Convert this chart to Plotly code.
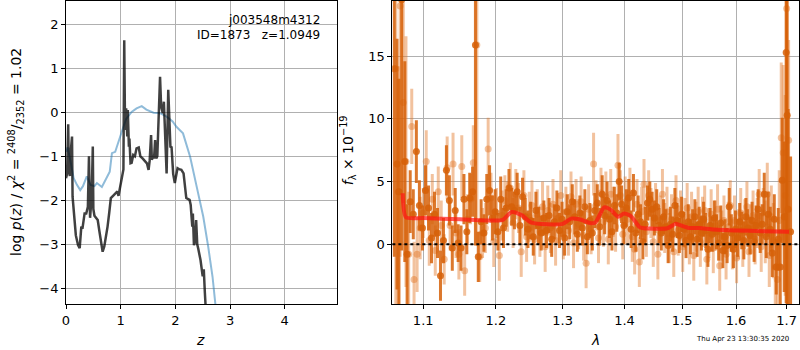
import plotly.graph_objects as go
import numpy as np

# ---------------- Left panel: log p(z) ----------------
z_pz = [0.00, 0.02, 0.03, 0.04, 0.05, 0.07, 0.09, 0.11, 0.12, 0.15, 0.18, 0.22, 0.25, 0.28, 0.30,
        0.34, 0.37, 0.40, 0.42, 0.44, 0.47, 0.49, 0.50, 0.52, 0.55, 0.58, 0.61, 0.65, 0.67, 0.70,
        0.73, 0.76, 0.79, 0.82, 0.86, 0.90, 0.94, 0.96, 0.99, 1.02, 1.05, 1.065, 1.08, 1.10, 1.12,
        1.13, 1.15, 1.16, 1.18, 1.20, 1.23, 1.26, 1.29, 1.33, 1.36, 1.40, 1.44, 1.48, 1.51, 1.53,
        1.556, 1.57, 1.59, 1.61, 1.63, 1.65, 1.67, 1.695, 1.72, 1.74, 1.77, 1.79, 1.81, 1.82, 1.84,
        1.87, 1.89, 1.91, 1.93, 1.96, 1.99, 2.02, 2.04, 2.08, 2.11, 2.15, 2.17, 2.20, 2.26, 2.28,
        2.31, 2.32, 2.34, 2.36, 2.38, 2.40, 2.42, 2.46, 2.50, 2.52, 2.54, 2.56, 2.58]
logpz = [-1.50, -1.40, -0.80, -0.27, -1.20, -1.45, -0.85, -0.55, -1.92, -2.45, -2.80, -3.02, -3.09, -2.60, -2.65,
         -2.30, -2.30, -2.15, -1.00, -2.40, -1.90, -0.78, -2.20, -2.35, -2.40, -2.45, -2.70, -3.00, -3.17, -3.05,
         -2.85, -2.60, -2.29, -1.95, -1.90, -1.84, -1.80, -1.90, -1.69, -1.55, -1.30, 1.64, -0.40, 0.09, -0.55,
         0.05, -0.78, -0.60, -1.16, -1.15, -0.97, -1.00, -0.82, -0.80, -1.00, -1.05, -1.10, -1.16, -1.31, -1.10,
         -0.52, -1.08, -1.00, -1.05, -0.63, -1.05, -1.00, 0.05, 0.81, 0.13, -0.02, 0.24, -0.30, -0.55, -1.39,
         0.51, -0.20, -0.80, -0.78, -1.40, -1.61, -1.35, -1.27, -1.30, -1.31, -1.39, -1.61, -1.95, -1.99, -2.10,
         -2.60, -2.30, -3.02, -2.95, -2.45, -3.00, -3.11, -3.36, -3.73, -3.57, -4.11, -4.40, -5.00]

z_prior = [0.00, 0.03, 0.08, 0.14, 0.20, 0.26, 0.31, 0.38, 0.45, 0.52, 0.565, 0.61, 0.656, 0.71, 0.76,
           0.80, 0.84, 0.90, 0.96, 1.00, 1.05, 1.10, 1.20, 1.29, 1.385, 1.47, 1.60, 1.72, 1.84, 1.95,
           2.02, 2.14, 2.27, 2.39, 2.51, 2.60, 2.68, 2.73, 2.78]
logprior = [-0.90, -0.80, -1.10, -1.50, -1.65, -1.77, -1.68, -1.46, -1.65, -1.68, -1.61, -1.65, -1.70, -1.57, -1.45,
            -1.35, -0.93, -0.90, -0.67, -0.50, -0.33, -0.15, 0.01, 0.09, 0.14, 0.06, -0.01, -0.02, -0.10, -0.21,
            -0.33, -0.48, -1.01, -1.69, -2.37, -3.05, -3.74, -4.34, -5.00]

z_ticks = [0, 1, 2, 3, 4]
pz_ticks = [-4, -3, -2, -1, 0, 1, 2]

# ---------------- Right panel: spectrum ----------------
wave_a = [1.0625, 1.0660, 1.0685, 1.0720, 1.0760, 1.0790, 1.0830, 1.0870, 1.0910, 1.0950, 1.0990, 1.1030,
          1.1070, 1.1110, 1.1150, 1.1190, 1.1230, 1.1270, 1.1310, 1.1350, 1.1390, 1.1430, 1.1470, 1.1510,
          1.1550, 1.1590, 1.1630, 1.1670, 1.1710, 1.1750, 1.1790, 1.1830, 1.1870, 1.1910, 1.1950, 1.1990,
          1.2030, 1.2070, 1.2110, 1.2150, 1.2190, 1.2230, 1.2270, 1.2310, 1.2350, 1.2390, 1.2430, 1.2470,
          1.2510, 1.2550, 1.2590, 1.2630, 1.2670, 1.2710, 1.2750, 1.2790, 1.2830, 1.2870, 1.2910, 1.2950,
          1.2990, 1.3030, 1.3070, 1.3110, 1.3150, 1.3190, 1.3230, 1.3270, 1.3310, 1.3350, 1.3390, 1.3430,
          1.3470, 1.3510, 1.3550, 1.3590, 1.3630, 1.3670, 1.3710, 1.3750, 1.3790, 1.3830, 1.3870, 1.3910,
          1.3950, 1.3990, 1.4030, 1.4070, 1.4110, 1.4150, 1.4190, 1.4230, 1.4270, 1.4310, 1.4350, 1.4390,
          1.4430, 1.4470, 1.4510, 1.4550, 1.4590, 1.4630, 1.4670, 1.4710, 1.4750, 1.4790, 1.4830, 1.4870,
          1.4910, 1.4950, 1.4990, 1.5030, 1.5070, 1.5110, 1.5150, 1.5190, 1.5230, 1.5270, 1.5310, 1.5350,
          1.5390, 1.5430, 1.5470, 1.5510, 1.5550, 1.5590, 1.5630, 1.5670, 1.5710, 1.5750, 1.5790, 1.5830,
          1.5870, 1.5910, 1.5950, 1.5990, 1.6030, 1.6070, 1.6110, 1.6150, 1.6190, 1.6230, 1.6270, 1.6310,
          1.6350, 1.6390, 1.6430, 1.6470, 1.6510, 1.6550, 1.6590, 1.6630, 1.6670, 1.6710, 1.6750, 1.6790,
          1.6830, 1.6870, 1.6910, 1.6950, 1.6990, 1.7010, 1.7030, 1.7080]
flux_a = [14.0, 6.4, 4.2, 19.5, 6.6, -0.8, 3.4, 2.4, 7.4, 3.1, 1.3, 4.3,
          2.9, 0.5, 2.4, 0.9, -2.5, 0.3, 5.9, 3.5, -0.3, 2.7, 0.1, -0.3,
          3.6, 1.0, 3.7, 4.2, 15.9, -1.0, 1.8, 0.9, 3.6, 4.3, 2.1, 2.6,
          1.0, 3.6, 1.3, 2.9, 4.5, 3.0, 2.7, 4.2, 1.5, 3.8, 2.2, 1.2,
          1.9, 0.6, 2.7, 1.5, 0.9, 2.1, 1.1, 2.3, 0.4, 1.8, 2.9, 1.1,
          2.0, 0.5, 2.6, 1.8, 3.4, 2.2, 0.8, 2.5, 1.3, 3.0, 0.6, 1.9,
          0.9, 2.7, 3.3, 1.4, 4.0, 2.3, 3.5, 2.0, 1.0, 3.1, 2.5, 5.0,
          3.2, 1.5, 2.9, 3.7, 1.2, 4.1, 0.9, 2.4, 1.8, 0.2, 1.6, 3.3,
          3.6, 2.8, 2.1, 3.0, 1.5, 0.9, 2.2, 1.4, -0.1, 1.6, 0.8, 3.1,
          1.9, 0.7, 2.4, 1.2, 0.3, 1.8, 0.6, 1.4, 2.2, 0.4, 1.6, 0.9,
          2.0, 1.1, -0.4, 1.5, 0.8, 2.1, 1.0, 0.1, 1.7, -0.5, 0.6, -0.1,
          3.0, 0.9, -0.4, 1.2, 0.5, 1.8, 1.1, 0.3, 2.2, 1.3, 0.7, 1.9,
          0.2, 1.5, 2.8, 0.9, 1.6, 4.0, 0.6, 2.4, 1.2, -0.7, 2.0, -1.8,
          0.4, -1.8, 5.1, 2.2, 15.3, 10.3, 2.8, 1.0]
err_a = [15, 10, 9, 20, 8, 4, 2.5, 2, 2.5, 2, 1.8, 2,
         1.8, 2, 1.8, 2, 2, 1.8, 2, 2, 1.8, 1.8, 1.5, 1.8,
         2, 1.8, 2, 2, 16, 2, 1.8, 1.5, 2, 2, 1.8, 1.8,
         1.5, 1.8, 1.6, 1.5, 1.5, 1.5, 1.5, 1.5, 1.5, 1.5, 1.5, 1.5,
         1.5, 1.5, 1.5, 1.5, 1.4, 1.4, 1.4, 1.4, 1.4, 1.4, 1.4, 1.4,
         1.4, 1.4, 1.4, 1.4, 1.4, 1.4, 1.4, 1.4, 1.4, 1.4, 1.4, 1.4,
         1.4, 1.4, 1.5, 1.5, 1.5, 1.5, 1.5, 1.5, 1.5, 1.5, 1.5, 1.5,
         1.5, 1.5, 1.5, 1.5, 1.5, 1.5, 1.5, 1.5, 1.4, 1.4, 1.4, 1.4,
         1.4, 1.4, 1.4, 1.4, 1.4, 1.4, 1.4, 1.4, 1.4, 1.4, 1.4, 1.4,
         1.4, 1.4, 1.4, 1.4, 1.4, 1.4, 1.4, 1.4, 1.4, 1.4, 1.4, 1.4,
         1.4, 1.4, 1.4, 1.4, 1.4, 1.4, 1.4, 1.4, 1.4, 1.4, 1.4, 1.4,
         1.5, 1.5, 1.5, 1.5, 1.5, 1.5, 1.5, 1.5, 1.5, 1.5, 1.5, 1.5,
         1.6, 1.6, 1.6, 1.6, 1.6, 1.7, 1.7, 1.8, 1.8, 1.9, 2, 2.2,
         2.5, 3, 5, 6, 20, 20, 8, 6]

wave_b = [1.0645, 1.0675, 1.0700, 1.0740, 1.0775, 1.0810, 1.0850, 1.0880, 1.0920, 1.0960, 1.1000, 1.1040,
          1.1080, 1.1120, 1.1160, 1.1200, 1.1240, 1.1280, 1.1320, 1.1360, 1.1400, 1.1440, 1.1480, 1.1520,
          1.1560, 1.1600, 1.1640, 1.1680, 1.1730, 1.1770, 1.1810, 1.1850, 1.1890, 1.1930, 1.1970, 1.2010,
          1.2050, 1.2090, 1.2130, 1.2170, 1.2210, 1.2250, 1.2290, 1.2330, 1.2370, 1.2410, 1.2450, 1.2490,
          1.2530, 1.2570, 1.2610, 1.2650, 1.2690, 1.2730, 1.2770, 1.2810, 1.2850, 1.2890, 1.2930, 1.2970,
          1.3010, 1.3050, 1.3090, 1.3130, 1.3170, 1.3210, 1.3250, 1.3290, 1.3330, 1.3370, 1.3410, 1.3450,
          1.3490, 1.3530, 1.3570, 1.3610, 1.3650, 1.3690, 1.3730, 1.3770, 1.3810, 1.3850, 1.3890, 1.3930,
          1.3970, 1.4010, 1.4050, 1.4090, 1.4130, 1.4170, 1.4210, 1.4250, 1.4290, 1.4330, 1.4370, 1.4410,
          1.4450, 1.4490, 1.4530, 1.4570, 1.4610, 1.4650, 1.4690, 1.4730, 1.4770, 1.4810, 1.4850, 1.4890,
          1.4930, 1.4970, 1.5010, 1.5050, 1.5090, 1.5130, 1.5170, 1.5210, 1.5250, 1.5290, 1.5330, 1.5370,
          1.5410, 1.5450, 1.5490, 1.5530, 1.5570, 1.5610, 1.5650, 1.5690, 1.5730, 1.5770, 1.5810, 1.5850,
          1.5890, 1.5930, 1.5970, 1.6010, 1.6050, 1.6090, 1.6130, 1.6170, 1.6210, 1.6250, 1.6290, 1.6330,
          1.6370, 1.6410, 1.6450, 1.6490, 1.6530, 1.6570, 1.6610, 1.6650, 1.6690, 1.6730, 1.6770, 1.6810,
          1.6850, 1.6890, 1.6930, 1.6970, 1.7000, 1.7040]
flux_b = [14.0, 4.2, 19.0, 11.3, 6.6, -0.8, 9.4, -2.8, -0.8, 1.3, 2.5, 6.6,
          0.3, 3.6, -0.5, 4.2, 1.5, -1.2, 6.1, 1.5, 6.4, 0.9, -0.8, 6.2,
          -2.1, 2.0, 3.6, 6.5, 15.9, -1.0, 0.9, 1.3, 7.6, 3.7, 0.2, 2.5,
          -0.9, 2.3, 3.5, 3.0, 4.5, 1.7, 4.0, 2.9, -0.6, 3.9, 0.6, 2.2,
          3.1, 0.4, 2.4, 1.0, 3.0, -0.2, 2.7, 1.3, 3.2, 0.3, 2.1, 3.9,
          0.8, 2.6, 1.1, 3.8, 0.1, 3.2, 1.6, 3.4, 0.7, -1.5, 2.8, 1.2,
          6.4, 3.1, 0.5, 4.1, 1.8, 3.8, 0.4, 4.0, 2.6, 1.4, 6.3, 3.9,
          0.8, 3.4, 2.0, 4.1, 0.6, -0.4, 3.2, -1.4, 2.6, 4.8, 1.0, 3.9,
          2.5, 0.2, 2.9, -0.8, 1.9, 4.0, 1.3, 2.6, 0.5, 2.0, -0.6, 3.5,
          1.1, 2.3, -0.2, 1.7, 2.9, 0.4, 2.2, -0.9, 1.4, 2.6, 0.2, 1.8,
          2.7, -1.2, 0.9, 2.4, -0.3, 1.5, 2.8, -1.7, 0.7, 1.9, -0.8, 1.4,
          3.1, 0.0, 1.9, -1.1, 0.8, 2.5, 0.2, 1.6, 3.0, -0.6, 1.2, 2.3,
          0.4, 1.7, 4.0, -0.2, 2.5, 1.0, 4.0, -0.9, 2.2, 0.3, -1.8, -2.8,
          1.9, 8.5, 7.3, 3.9, 18.8, 8.3]
err_b = [20, 10, 20, 8, 10, 5, 3, 3, 3, 2.5, 2, 2.5,
         2, 2, 2, 2, 2, 2, 2.5, 2, 2.5, 2, 2, 2.5,
         2, 2, 2, 3, 16, 2, 2, 2, 2.5, 2, 2, 2,
         2, 2, 2, 2, 2, 2, 2, 2, 2, 2, 2, 2,
         2, 2, 2, 2, 2, 2, 2, 2, 2, 2, 2, 2,
         2, 2, 2, 2, 2, 2, 2, 2, 2, 2, 2, 2,
         2.5, 2, 2, 2, 2, 2, 2, 2, 2, 2, 2.5, 2,
         2, 2, 2, 2, 2, 2, 2, 2, 2, 2, 2, 2,
         2, 2, 2, 2, 2, 2, 2, 2, 2, 2, 2, 2,
         2, 2, 2, 2, 2, 2, 2, 2, 2, 2, 2, 2,
         2, 2, 2, 2, 2, 2, 2, 2, 2, 2, 2, 2,
         2, 2, 2, 2, 2, 2, 2, 2, 2, 2, 2, 2,
         2, 2, 2, 2, 2, 2.5, 2.5, 2.5, 2.5, 3, 3, 3,
         4, 6, 7, 8, 20, 8]

wave_model = [1.0733, 1.0775, 1.10, 1.15, 1.20, 1.21, 1.2229, 1.2375, 1.2523, 1.30, 1.3132, 1.3263,
              1.3448, 1.3520, 1.3663, 1.3773, 1.3893, 1.3993, 1.4106, 1.4247, 1.4300, 1.4737, 1.4884,
              1.4950, 1.5124, 1.5300, 1.5578, 1.6000, 1.6533, 1.7050]
flux_model = [4.07, 2.15, 2.10, 2.00, 1.90, 1.95, 2.58, 2.33, 1.73, 1.63, 2.05, 2.00,
              1.68, 1.75, 2.95, 2.75, 2.20, 2.45, 2.25, 1.40, 1.30, 1.28, 1.64,
              1.55, 1.30, 1.30, 1.18, 1.10, 1.05, 1.00]

wave_ticks = [1.1, 1.2, 1.3, 1.4, 1.5, 1.6, 1.7]
flux_ticks = [0, 5, 10, 15]

FONT = "DejaVu Sans"
dark = "rgba(214,96,8,0.85)"
light = "rgba(226,120,40,0.45)"

fig = go.Figure()

fig.add_trace(go.Scatter(x=z_prior, y=logprior, mode="lines",
                         line=dict(color="rgba(31,119,180,0.5)", width=2),
                         xaxis="x", yaxis="y", showlegend=False))
fig.add_trace(go.Scatter(x=z_pz, y=logpz, mode="lines",
                         line=dict(color="rgba(0,0,0,0.75)", width=2.5),
                         xaxis="x", yaxis="y", showlegend=False))

fig.add_trace(go.Scatter(x=wave_b, y=flux_b, mode="markers",
                         marker=dict(color=light, size=7),
                         error_y=dict(type="data", array=err_b, color=light, thickness=3, width=0),
                         xaxis="x2", yaxis="y2", showlegend=False))
fig.add_trace(go.Scatter(x=wave_a, y=flux_a, mode="markers",
                         marker=dict(color=dark, size=7),
                         error_y=dict(type="data", array=err_a, color=dark, thickness=3, width=0),
                         xaxis="x2", yaxis="y2", showlegend=False))
fig.add_trace(go.Scatter(x=wave_model, y=flux_model, mode="lines",
                         line=dict(color="rgba(255,20,20,0.7)", width=4, shape="spline", smoothing=0.6),
                         xaxis="x2", yaxis="y2", showlegend=False))

fig.add_shape(type="line", xref="x2 domain", yref="y2", x0=0, x1=1, y0=0, y1=0,
              line=dict(color="black", width=2, dash="dot"))

axis_common = dict(showgrid=True, gridcolor="#b0b0b0", gridwidth=1, showline=True, linecolor="black",
                   linewidth=1, mirror=True, ticks="outside", ticklen=4, tickcolor="black",
                   zeroline=False, tickfont=dict(family=FONT, size=13, color="black"))

fig.update_layout(
    width=800, height=350, autosize=False,
    margin=dict(l=0, r=0, t=0, b=0),
    paper_bgcolor="white", plot_bgcolor="white",
    font=dict(family=FONT, color="black"),
    xaxis=dict(domain=[0.0779, 0.4179], range=[0, 4.95], tickvals=z_ticks, anchor="y", **axis_common),
    yaxis=dict(domain=[0.1314, 0.997], range=[-4.36, 2.53], tickvals=pz_ticks,
               ticktext=["\u22124", "\u22123", "\u22122", "\u22121", "0", "1", "2"], anchor="x", **axis_common),
    xaxis2=dict(domain=[0.4879, 0.9991], type="log", range=[np.log10(1.0601), np.log10(1.7259)],
                tickvals=wave_ticks, ticktext=[str(t) for t in wave_ticks], anchor="y2", **axis_common),
    yaxis2=dict(domain=[0.1314, 0.997], range=[-4.76, 19.4], tickvals=flux_ticks, anchor="x2", **axis_common),
)

ann = [
    dict(text="j003548m4312", x=320, y=20, xanchor="right", yanchor="middle", font=dict(size=12)),
    dict(text="ID=1873   z=1.0949", x=320, y=35, xanchor="right", yanchor="middle", font=dict(size=12)),
    dict(text="<i>z</i>", x=197, y=340, xanchor="center", yanchor="middle", font=dict(size=14)),
    dict(text="<i>λ</i>", x=594, y=340, xanchor="center", yanchor="middle", font=dict(size=14)),
    dict(text="log <i>p</i>(<i>z</i>) / <i>χ</i><sup>2</sup> = <sup>2408</sup>/<sub>2352</sub> = 1.02",
         x=12, y=152, xanchor="center", yanchor="middle", textangle=-90, font=dict(size=14)),
    dict(text="<i>f</i><sub>λ</sub> × 10<sup>−19</sup>", x=346, y=150, xanchor="center", yanchor="middle",
         textangle=-90, font=dict(size=14)),
    dict(text="Thu Apr 23 13:30:35 2020", x=742, y=339, xanchor="center", yanchor="middle", font=dict(size=7)),
]
for a in ann:
    a["x"] = a["x"] / 800
    a["y"] = 1 - a["y"] / 350
    a.update(xref="paper", yref="paper", showarrow=False)
    fig.add_annotation(**a)

fig.write_html("out.html", config={"displayModeBar": False},
               post_script="document.body.style.margin='0';document.body.style.overflow='hidden';")
